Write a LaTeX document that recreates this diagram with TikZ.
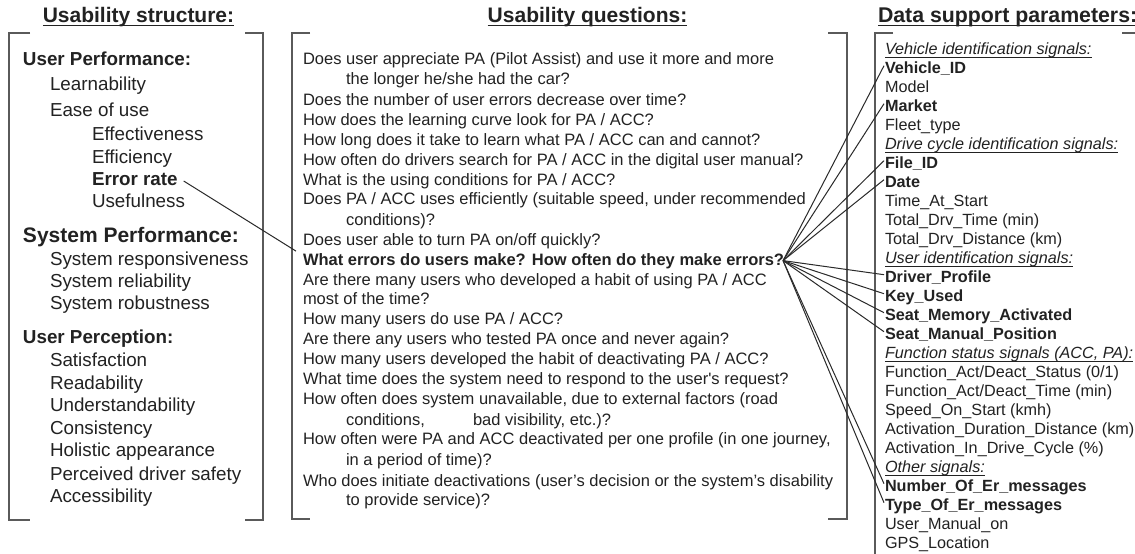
\documentclass[tikz,border=0pt]{standalone}
\usepackage{fontspec}
\setmainfont{Liberation Sans}
\definecolor{textc}{HTML}{222222}
\definecolor{brkc}{HTML}{5A5A5A}
\definecolor{linec}{HTML}{2A2A2A}
\begin{document}
\begin{tikzpicture}[x=1pt,y=-1pt,
  base/.style={anchor=base west,inner sep=0pt,outer sep=0pt,text=textc},
  hd/.style={anchor=base,inner sep=0pt,outer sep=0pt,text=textc,font=\fontsize{21}{24}\selectfont\bfseries},
  lt/.style={base,font=\fontsize{18.8}{22}\selectfont},
  lb/.style={base,font=\fontsize{18.8}{22}\selectfont\bfseries},
  lbig/.style={base,font=\fontsize{21}{24}\selectfont\bfseries},
  mq/.style={base,font=\fontsize{16.5}{19}\selectfont},
  mqb/.style={base,font=\fontsize{16.5}{19}\selectfont\bfseries},
  rt/.style={base,font=\fontsize{16.2}{19}\selectfont},
  rb/.style={base,font=\fontsize{16.2}{19}\selectfont\bfseries},
  ri/.style={base,font=\fontsize{16.2}{19}\selectfont\itshape},
  brk/.style={draw=brkc,line width=1.4pt},
  ulh/.style={draw=textc,line width=1.1pt},
  uli/.style={draw=textc,line width=0.6pt},
  conn/.style={draw=linec,line width=1pt}]
\useasboundingbox[fill=white] (0,0) rectangle (1135,554);

% headings
\node[hd] (h1) at (138.5,23) {Usability structure:};
\node[hd] (h2) at (587.5,23) {Usability questions:};
\node[hd,anchor=base west,font=\fontsize{21.3}{24}\selectfont\bfseries] (h3) at (878,23) {Data support parameters:};
\foreach \h in {h1,h2,h3}
  \draw[ulh] ([yshift=-2.8pt]\h.base west) -- ([yshift=-2.8pt]\h.base east);

% brackets
\draw[brk] (30,33) -- (9,33) -- (9,520) -- (30,520);
\draw[brk] (245,33) -- (263,33) -- (263,520) -- (245,520);
\draw[brk] (310,33) -- (292,33) -- (292,519) -- (310,519);
\draw[brk] (828,33) -- (847,33) -- (847,519) -- (828,519);
\draw[brk] (893,33) -- (875,33) -- (875,560);
\draw[brk] (1122,33) -- (1140,33);

% left column
\node[lb] (u1) at (23,65) {User Performance:};
\node[lt] (u2) at (50,90.5) {Learnability};
\node[lt] (u3) at (50,116.5) {Ease of use};
\node[lt] (u4) at (92,140.5) {Effectiveness};
\node[lt] (u5) at (92,163.5) {Efficiency};
\node[lb] (u6) at (92,185) {Error rate};
\node[lt] (u7) at (92,207) {Usefulness};
\node[lbig] (s0) at (23,242.7) {System Performance:};
\node[lt] (s1) at (50,265) {System responsiveness};
\node[lt] (s2) at (50,287) {System reliability};
\node[lt] (s3) at (50,309.3) {System robustness};
\node[lb] (p0) at (23,343.3) {User Perception:};
\node[lt] (p1) at (50,366) {Satisfaction};
\node[lt] (p2) at (50,389) {Readability};
\node[lt] (p3) at (50,411.7) {Understandability};
\node[lt] (p4) at (50,434) {Consistency};
\node[lt] (p5) at (50,456.5) {Holistic appearance};
\node[lt] (p6) at (50,480) {Perceived driver safety};
\node[lt] (p7) at (50,502.7) {Accessibility};

% middle column
\node[mq] (q1) at (303,64) {Does user appreciate PA (Pilot Assist) and use it more and more};
\node[mq] (q1b) at (346,84) {the longer he/she had the car?};
\node[mq] (q2) at (303,105) {Does the number of user errors decrease over time?};
\node[mq] (q3) at (303,125) {How does the learning curve look for PA / ACC?};
\node[mq] (q4) at (303,145) {How long does it take to learn what PA / ACC can and cannot?};
\node[mq] (q5) at (303,165) {How often do drivers search for PA / ACC in the digital user manual?};
\node[mq] (q6) at (303,185) {What is the using conditions for PA / ACC?};
\node[mq] (q7) at (303,204.5) {Does PA / ACC uses efficiently (suitable speed, under recommended};
\node[mq] (q7b) at (346,225) {conditions)?};
\node[mq] (q8) at (303,245.5) {Does user able to turn PA on/off quickly?};
\node[mqb] (q9) at (303,265.6) {What errors do users make? How often do they make errors?};
\node[mq] (q10) at (303,285) {Are there many users who developed a habit of using PA / ACC};
\node[mq] (q10b) at (303,304) {most of the time?};
\node[mq] (q11) at (303,324.3) {How many users do use PA / ACC?};
\node[mq] (q12) at (303,344) {Are there any users who tested PA once and never again?};
\node[mq] (q13) at (303,364) {How many users developed the habit of deactivating PA / ACC?};
\node[mq] (q14) at (303,384) {What time does the system need to respond to the user\textquotesingle s request?};
\node[mq] (q15) at (303,404) {How often does system unavailable, due to external factors (road};
\node[mq] (q15b) at (346,425) {conditions,};
\node[mq] (q15c) at (473,425) {bad visibility, etc.)?};
\node[mq] (q16) at (303,444.5) {How often were PA and ACC deactivated per one profile (in one journey,};
\node[mq] (q16b) at (346,465) {in a period of time)?};
\node[mq] (q17) at (303,486) {Who does initiate deactivations (user’s decision or the system’s disability};
\node[mq] (q17b) at (346,505) {to provide service)?};

% right column
\node[ri] (r0) at (885,54.7) {Vehicle identification signals:};
\node[rb] (r1) at (885,73.7) {Vehicle\_ID};
\node[rt] (r2) at (885,92.7) {Model};
\node[rb] (r3) at (885,111.7) {Market};
\node[rt] (r4) at (885,130.7) {Fleet\_type};
\node[ri] (r5) at (885,149.7) {Drive cycle identification signals:};
\node[rb] (r6) at (885,168.7) {File\_ID};
\node[rb] (r7) at (885,187.7) {Date};
\node[rt] (r8) at (885,206.7) {Time\_At\_Start};
\node[rt] (r9) at (885,225.7) {Total\_Drv\_Time (min)};
\node[rt] (r10) at (885,244.7) {Total\_Drv\_Distance (km)};
\node[ri] (r11) at (885,263.7) {User identification signals:};
\node[rb] (r12) at (885,282.7) {Driver\_Profile};
\node[rb] (r13) at (885,301.7) {Key\_Used};
\node[rb] (r14) at (885,320.7) {Seat\_Memory\_Activated};
\node[rb] (r15) at (885,339.7) {Seat\_Manual\_Position};
\node[ri] (r16) at (885,358.7) {Function status signals (ACC, PA):};
\node[rt] (r17) at (885,377.7) {Function\_Act/Deact\_Status (0/1)};
\node[rt] (r18) at (885,396.7) {Function\_Act/Deact\_Time (min)};
\node[rt] (r19) at (885,415.7) {Speed\_On\_Start (kmh)};
\node[rt] (r20) at (885,434.7) {Activation\_Duration\_Distance (km)};
\node[rt] (r21) at (885,453.7) {Activation\_In\_Drive\_Cycle (\%)};
\node[ri] (r22) at (885,472.7) {Other signals:};
\node[rb] (r23) at (885,491.7) {Number\_Of\_Er\_messages};
\node[rb] (r24) at (885,510.7) {Type\_Of\_Er\_messages};
\node[rt] (r25) at (885,529.7) {User\_Manual\_on};
\node[rt] (r26) at (885,548.7) {GPS\_Location};
\foreach \h in {r0,r5,r11,r16,r22}
  \draw[uli] ([yshift=-2.4pt]\h.base west) -- ([yshift=-2.4pt]\h.base east);

% connectors
\draw[conn] ([xshift=6pt,yshift=4pt]u6.base east) -- ([xshift=-7pt,yshift=14.5pt]q9.base west);
\foreach \r in {r1,r3,r6,r7,r12,r13,r14,r15,r23,r24}
  \draw[conn] ([xshift=-1pt,yshift=5pt]q9.base east) -- ([xshift=-1pt,yshift=8pt]\r.base west);
\end{tikzpicture}
\end{document}
